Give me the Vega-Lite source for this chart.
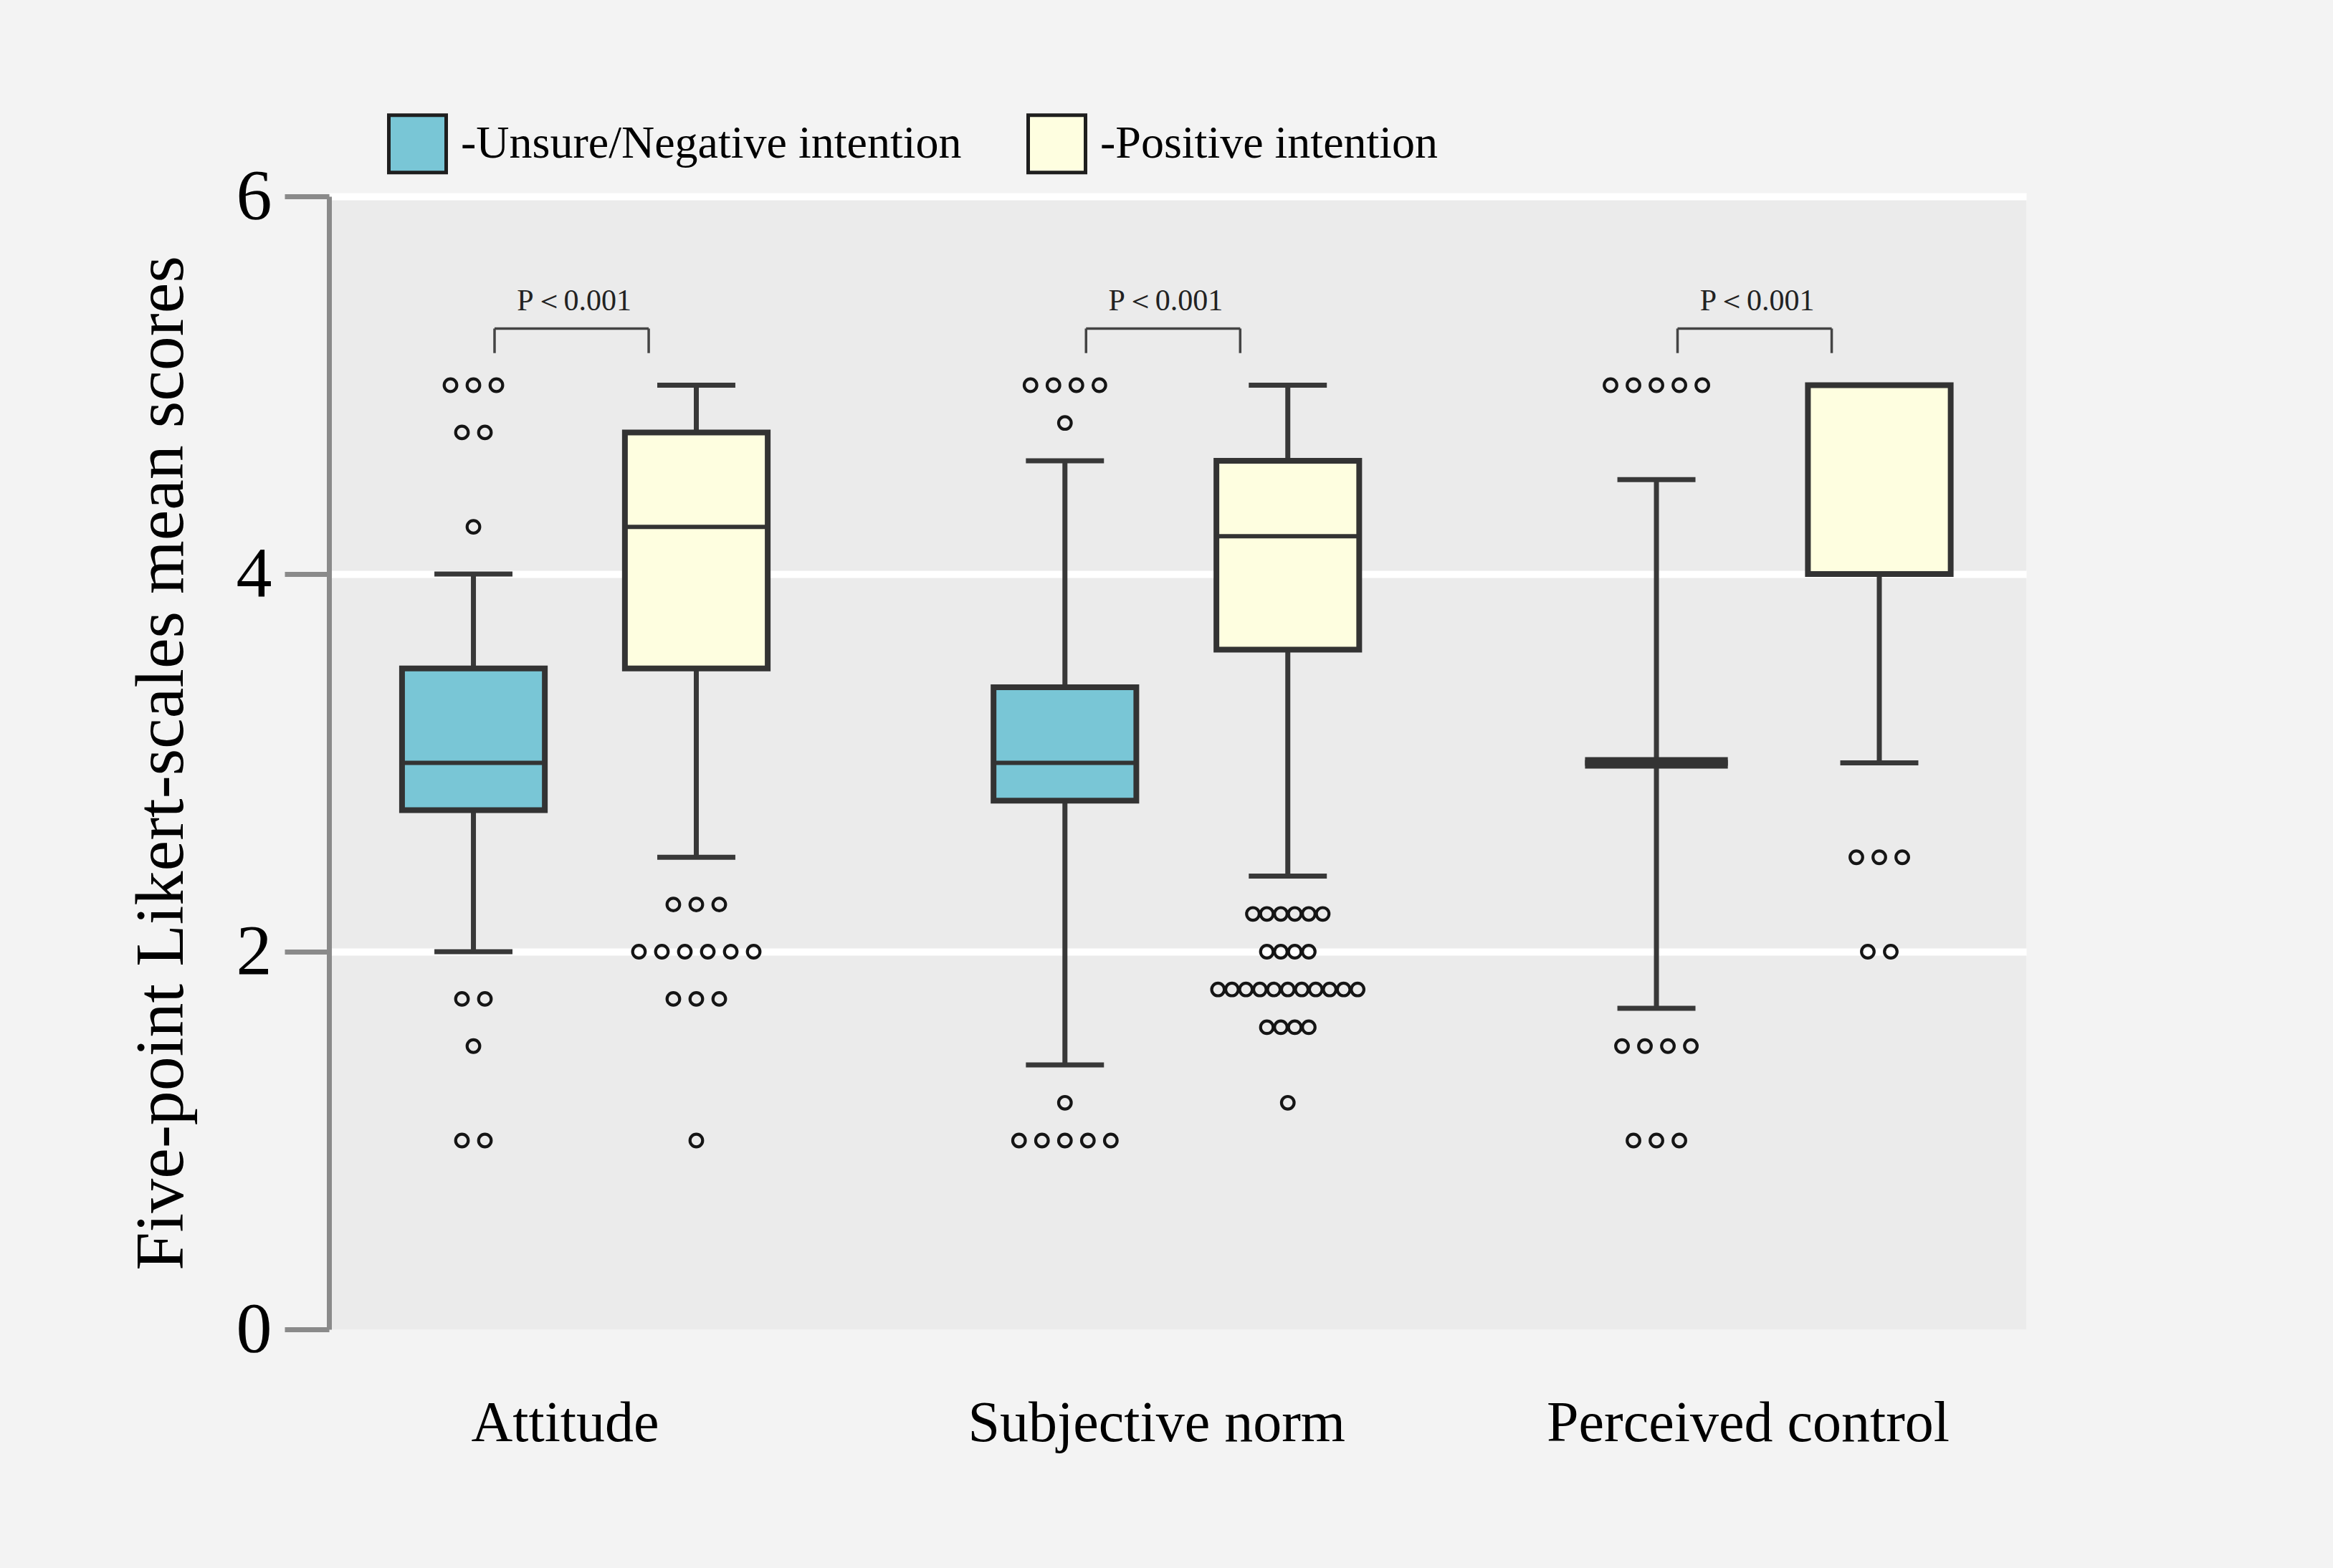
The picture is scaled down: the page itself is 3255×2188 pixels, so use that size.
{
  "$schema": "https://vega.github.io/schema/vega-lite/v6.json",
  "width": 2368,
  "height": 1581,
  "autosize": {"type": "none"},
  "padding": {"left": 459, "top": 274, "right": 428, "bottom": 333},
  "background": "#f3f3f3",
  "config": {
    "view": {"fill": "#ebebeb", "stroke": null},
    "font": "Liberation Serif",
    "axis": {"labelFont": "Liberation Serif", "titleFont": "Liberation Serif", "labelColor": "#000000", "titleColor": "#000000", "titleFontWeight": "normal", "labelLimit": 3000},
    "axisY": {"grid": true, "gridColor": "#ffffff", "gridWidth": 10, "domainColor": "#8a8a8a", "domainWidth": 7, "tickColor": "#8a8a8a", "tickWidth": 7, "tickSize": 62, "labelFontSize": 100, "labelPadding": 18, "titleFontSize": 96, "titlePadding": 55},
    "axisX": {"grid": false, "domain": false, "ticks": false, "labelFontSize": 80, "labelPadding": 92, "labelOffset": -28}
  },
  "datasets": {
    "boxes": [
      {"factor": "Attitude", "group": "Unsure/Negative intention", "lo": 2.0, "q1": 2.75, "median": 3.0, "q3": 3.5, "hi": 4.0},
      {"factor": "Attitude", "group": "Positive intention", "lo": 2.5, "q1": 3.5, "median": 4.25, "q3": 4.75, "hi": 5.0},
      {"factor": "Subjective norm", "group": "Unsure/Negative intention", "lo": 1.4, "q1": 2.8, "median": 3.0, "q3": 3.4, "hi": 4.6},
      {"factor": "Subjective norm", "group": "Positive intention", "lo": 2.4, "q1": 3.6, "median": 4.2, "q3": 4.6, "hi": 5.0},
      {"factor": "Perceived control", "group": "Unsure/Negative intention", "lo": 1.7, "q1": 3.0, "median": 3.0, "q3": 3.0, "hi": 4.5},
      {"factor": "Perceived control", "group": "Positive intention", "lo": 3.0, "q1": 4.0, "median": 5.0, "q3": 5.0, "hi": 5.0}
    ],
    "outliers": [
      {"factor": "Attitude", "group": "Unsure/Negative intention", "value": 5.0},
      {"factor": "Attitude", "group": "Unsure/Negative intention", "value": 5.0},
      {"factor": "Attitude", "group": "Unsure/Negative intention", "value": 5.0},
      {"factor": "Attitude", "group": "Unsure/Negative intention", "value": 4.75},
      {"factor": "Attitude", "group": "Unsure/Negative intention", "value": 4.75},
      {"factor": "Attitude", "group": "Unsure/Negative intention", "value": 4.25},
      {"factor": "Attitude", "group": "Unsure/Negative intention", "value": 1.75},
      {"factor": "Attitude", "group": "Unsure/Negative intention", "value": 1.75},
      {"factor": "Attitude", "group": "Unsure/Negative intention", "value": 1.5},
      {"factor": "Attitude", "group": "Unsure/Negative intention", "value": 1.0},
      {"factor": "Attitude", "group": "Unsure/Negative intention", "value": 1.0},
      {"factor": "Attitude", "group": "Positive intention", "value": 2.25},
      {"factor": "Attitude", "group": "Positive intention", "value": 2.25},
      {"factor": "Attitude", "group": "Positive intention", "value": 2.25},
      {"factor": "Attitude", "group": "Positive intention", "value": 2.0},
      {"factor": "Attitude", "group": "Positive intention", "value": 2.0},
      {"factor": "Attitude", "group": "Positive intention", "value": 2.0},
      {"factor": "Attitude", "group": "Positive intention", "value": 2.0},
      {"factor": "Attitude", "group": "Positive intention", "value": 2.0},
      {"factor": "Attitude", "group": "Positive intention", "value": 2.0},
      {"factor": "Attitude", "group": "Positive intention", "value": 1.75},
      {"factor": "Attitude", "group": "Positive intention", "value": 1.75},
      {"factor": "Attitude", "group": "Positive intention", "value": 1.75},
      {"factor": "Attitude", "group": "Positive intention", "value": 1.0},
      {"factor": "Subjective norm", "group": "Unsure/Negative intention", "value": 5.0},
      {"factor": "Subjective norm", "group": "Unsure/Negative intention", "value": 5.0},
      {"factor": "Subjective norm", "group": "Unsure/Negative intention", "value": 5.0},
      {"factor": "Subjective norm", "group": "Unsure/Negative intention", "value": 5.0},
      {"factor": "Subjective norm", "group": "Unsure/Negative intention", "value": 4.8},
      {"factor": "Subjective norm", "group": "Unsure/Negative intention", "value": 1.2},
      {"factor": "Subjective norm", "group": "Unsure/Negative intention", "value": 1.0},
      {"factor": "Subjective norm", "group": "Unsure/Negative intention", "value": 1.0},
      {"factor": "Subjective norm", "group": "Unsure/Negative intention", "value": 1.0},
      {"factor": "Subjective norm", "group": "Unsure/Negative intention", "value": 1.0},
      {"factor": "Subjective norm", "group": "Unsure/Negative intention", "value": 1.0},
      {"factor": "Subjective norm", "group": "Positive intention", "value": 2.2},
      {"factor": "Subjective norm", "group": "Positive intention", "value": 2.2},
      {"factor": "Subjective norm", "group": "Positive intention", "value": 2.2},
      {"factor": "Subjective norm", "group": "Positive intention", "value": 2.2},
      {"factor": "Subjective norm", "group": "Positive intention", "value": 2.2},
      {"factor": "Subjective norm", "group": "Positive intention", "value": 2.2},
      {"factor": "Subjective norm", "group": "Positive intention", "value": 2.0},
      {"factor": "Subjective norm", "group": "Positive intention", "value": 2.0},
      {"factor": "Subjective norm", "group": "Positive intention", "value": 2.0},
      {"factor": "Subjective norm", "group": "Positive intention", "value": 2.0},
      {"factor": "Subjective norm", "group": "Positive intention", "value": 1.8},
      {"factor": "Subjective norm", "group": "Positive intention", "value": 1.8},
      {"factor": "Subjective norm", "group": "Positive intention", "value": 1.8},
      {"factor": "Subjective norm", "group": "Positive intention", "value": 1.8},
      {"factor": "Subjective norm", "group": "Positive intention", "value": 1.8},
      {"factor": "Subjective norm", "group": "Positive intention", "value": 1.8},
      {"factor": "Subjective norm", "group": "Positive intention", "value": 1.8},
      {"factor": "Subjective norm", "group": "Positive intention", "value": 1.8},
      {"factor": "Subjective norm", "group": "Positive intention", "value": 1.8},
      {"factor": "Subjective norm", "group": "Positive intention", "value": 1.8},
      {"factor": "Subjective norm", "group": "Positive intention", "value": 1.8},
      {"factor": "Subjective norm", "group": "Positive intention", "value": 1.6},
      {"factor": "Subjective norm", "group": "Positive intention", "value": 1.6},
      {"factor": "Subjective norm", "group": "Positive intention", "value": 1.6},
      {"factor": "Subjective norm", "group": "Positive intention", "value": 1.6},
      {"factor": "Subjective norm", "group": "Positive intention", "value": 1.2},
      {"factor": "Perceived control", "group": "Unsure/Negative intention", "value": 5.0},
      {"factor": "Perceived control", "group": "Unsure/Negative intention", "value": 5.0},
      {"factor": "Perceived control", "group": "Unsure/Negative intention", "value": 5.0},
      {"factor": "Perceived control", "group": "Unsure/Negative intention", "value": 5.0},
      {"factor": "Perceived control", "group": "Unsure/Negative intention", "value": 5.0},
      {"factor": "Perceived control", "group": "Unsure/Negative intention", "value": 1.5},
      {"factor": "Perceived control", "group": "Unsure/Negative intention", "value": 1.5},
      {"factor": "Perceived control", "group": "Unsure/Negative intention", "value": 1.5},
      {"factor": "Perceived control", "group": "Unsure/Negative intention", "value": 1.5},
      {"factor": "Perceived control", "group": "Unsure/Negative intention", "value": 1.0},
      {"factor": "Perceived control", "group": "Unsure/Negative intention", "value": 1.0},
      {"factor": "Perceived control", "group": "Unsure/Negative intention", "value": 1.0},
      {"factor": "Perceived control", "group": "Positive intention", "value": 2.5},
      {"factor": "Perceived control", "group": "Positive intention", "value": 2.5},
      {"factor": "Perceived control", "group": "Positive intention", "value": 2.5},
      {"factor": "Perceived control", "group": "Positive intention", "value": 2.0},
      {"factor": "Perceived control", "group": "Positive intention", "value": 2.0}
    ],
    "tests": [
      {"factor": "Attitude", "label": "P＜0.001"},
      {"factor": "Subjective norm", "label": "P＜0.001"},
      {"factor": "Perceived control", "label": "P＜0.001"}
    ]
  },
  "layer": [
    {
      "data": {"name": "boxes"},
      "transform": [
        {"calculate": "indexof(['Attitude','Subjective norm','Perceived control'], datum.factor) + 0.5 + (datum.group === 'Positive intention' ? 0.1884 : -0.1884)", "as": "cx"},
        {"calculate": "datum.cx - 0.1207", "as": "bl"},
        {"calculate": "datum.cx + 0.1207", "as": "br"},
        {"calculate": "datum.cx - 0.066", "as": "cl"},
        {"calculate": "datum.cx + 0.066", "as": "cr"}
      ],
      "layer": [
        {
          "mark": {"type": "rule", "stroke": "#383838", "strokeWidth": 7},
          "encoding": {
            "x": {"field": "cx", "type": "quantitative", "title": null,
                  "scale": {"domain": [0.0674, 2.9368], "nice": false, "zero": false},
                  "axis": {"values": [0.5, 1.5, 2.5], "labelExpr": "['Attitude','Subjective norm','Perceived control'][round(datum.value - 0.5)]"}},
            "y": {"field": "lo", "type": "quantitative", "title": "Five-point Likert-scales mean scores",
                  "scale": {"domain": [0, 6], "nice": false, "zero": false},
                  "axis": {"values": [0, 2, 4, 6], "format": "d", "gridOpacity": {"condition": {"test": "datum.value === 0", "value": 0}, "value": 1}}},
            "y2": {"field": "q1"}
          }
        },
        {
          "mark": {"type": "rule", "stroke": "#383838", "strokeWidth": 7},
          "encoding": {
            "x": {"field": "cx", "type": "quantitative", "title": null},
            "y": {"field": "q3", "type": "quantitative", "title": "Five-point Likert-scales mean scores"},
            "y2": {"field": "hi"}
          }
        },
        {
          "mark": {"type": "rule", "stroke": "#383838", "strokeWidth": 7},
          "encoding": {
            "x": {"field": "cl", "type": "quantitative", "title": null},
            "x2": {"field": "cr"},
            "y": {"field": "lo", "type": "quantitative", "title": "Five-point Likert-scales mean scores"}
          }
        },
        {
          "mark": {"type": "rule", "stroke": "#383838", "strokeWidth": 7},
          "encoding": {
            "x": {"field": "cl", "type": "quantitative", "title": null},
            "x2": {"field": "cr"},
            "y": {"field": "hi", "type": "quantitative", "title": "Five-point Likert-scales mean scores"}
          }
        },
        {
          "mark": {"type": "rect", "stroke": "#333333", "strokeWidth": 8},
          "encoding": {
            "x": {"field": "bl", "type": "quantitative", "title": null},
            "x2": {"field": "br"},
            "y": {"field": "q1", "type": "quantitative", "title": "Five-point Likert-scales mean scores"},
            "y2": {"field": "q3"},
            "fill": {"field": "group", "type": "nominal",
                     "scale": {"domain": ["Unsure/Negative intention", "Positive intention"], "range": ["#79c6d6", "#fefee0"]},
                     "legend": {"title": null, "orient": "none", "legendX": 81, "legendY": -116, "direction": "horizontal",
                                "symbolType": "square", "symbolSize": 6400, "symbolStrokeColor": "#1e1e1e", "symbolStrokeWidth": 5,
                                "labelFont": "Liberation Serif", "labelFontSize": 64, "labelColor": "#000000", "labelLimit": 3000,
                                "labelOffset": 18, "columnPadding": 82, "padding": 0, "labelExpr": "'-' + datum.label"}}
          }
        },
        {
          "mark": {"type": "rule", "stroke": "#333333"},
          "encoding": {
            "x": {"field": "bl", "type": "quantitative", "title": null},
            "x2": {"field": "br"},
            "y": {"field": "median", "type": "quantitative", "title": "Five-point Likert-scales mean scores"},
            "strokeWidth": {"condition": {"test": "datum.q1 === datum.q3", "value": 16}, "value": 6}
          }
        }
      ]
    },
    {
      "data": {"name": "outliers"},
      "transform": [
        {"calculate": "indexof(['Attitude','Subjective norm','Perceived control'], datum.factor) + 0.5 + (datum.group === 'Positive intention' ? 0.1884 : -0.1884)", "as": "cx"},
        {"window": [{"op": "row_number", "as": "k"}], "groupby": ["factor", "group", "value"]},
        {"joinaggregate": [{"op": "count", "as": "n"}], "groupby": ["factor", "group", "value"]},
        {"calculate": "datum.cx + (datum.k - (datum.n + 1) / 2) * (datum.factor === 'Subjective norm' && datum.group === 'Positive intention' ? 0.0236 : 0.0388)", "as": "ox"}
      ],
      "mark": {"type": "point", "shape": "circle", "filled": false, "color": "#151515", "strokeWidth": 4.2, "size": 310, "opacity": 1},
      "encoding": {
        "x": {"field": "ox", "type": "quantitative", "title": null},
        "y": {"field": "value", "type": "quantitative", "title": "Five-point Likert-scales mean scores"}
      }
    },
    {
      "data": {"name": "tests"},
      "transform": [
        {"calculate": "indexof(['Attitude','Subjective norm','Perceived control'], datum.factor) + 0.5", "as": "pc"},
        {"calculate": "datum.pc - 0.1527", "as": "b1"},
        {"calculate": "datum.pc + 0.1079", "as": "b2"},
        {"calculate": "datum.pc - 0.018", "as": "tx"}
      ],
      "layer": [
        {
          "mark": {"type": "rule", "stroke": "#444444", "strokeWidth": 3.5},
          "encoding": {
            "x": {"field": "b1", "type": "quantitative", "title": null},
            "x2": {"field": "b2"},
            "y": {"datum": 5.3, "type": "quantitative"}
          }
        },
        {
          "mark": {"type": "rule", "stroke": "#444444", "strokeWidth": 3.5},
          "encoding": {
            "x": {"field": "b1", "type": "quantitative", "title": null},
            "y": {"datum": 5.3, "type": "quantitative"},
            "y2": {"datum": 5.17}
          }
        },
        {
          "mark": {"type": "rule", "stroke": "#444444", "strokeWidth": 3.5},
          "encoding": {
            "x": {"field": "b2", "type": "quantitative", "title": null},
            "y": {"datum": 5.3, "type": "quantitative"},
            "y2": {"datum": 5.17}
          }
        },
        {
          "mark": {"type": "text", "font": "Liberation Serif", "fontSize": 42, "color": "#222222", "baseline": "middle", "align": "center"},
          "encoding": {
            "x": {"field": "tx", "type": "quantitative", "title": null},
            "y": {"datum": 5.446, "type": "quantitative"},
            "text": {"field": "label"}
          }
        }
      ]
    }
  ]
}
